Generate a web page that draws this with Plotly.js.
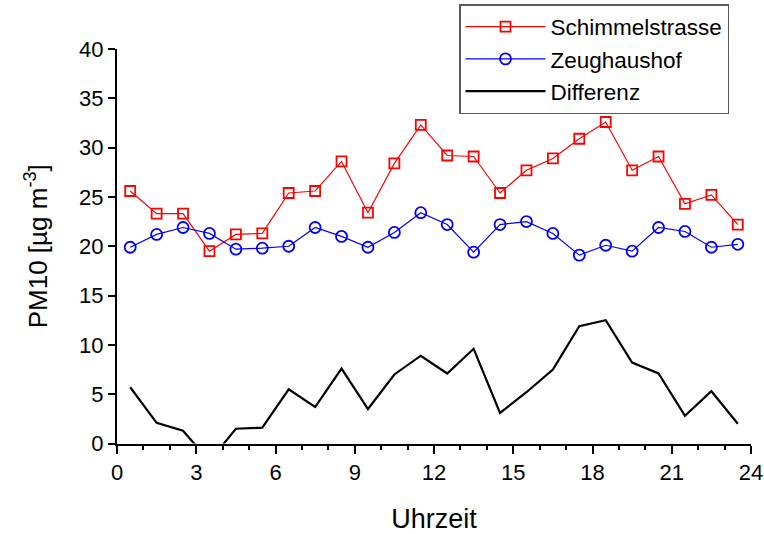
<!DOCTYPE html>
<html>
<head>
<meta charset="utf-8">
<script src="https://cdn.plot.ly/plotly-3.0.1.min.js"></script>
<style>
  html, body { margin: 0; padding: 0; background: #fff; }
  #chart { width: 764px; height: 534px; }
</style>
</head>
<body>
<div id="chart"></div>
<script>
// Hourly PM10 means (time of day, hour centres)
const hours = [0.5, 1.5, 2.5, 3.5, 4.5, 5.5, 6.5, 7.5, 8.5, 9.5, 10.5, 11.5,
               12.5, 13.5, 14.5, 15.5, 16.5, 17.5, 18.5, 19.5, 20.5, 21.5, 22.5, 23.5];

const schimmelstrasse = [25.6, 23.3, 23.3, 19.5, 21.2, 21.3, 25.4, 25.6, 28.6, 23.4, 28.4, 32.3,
                         29.2, 29.1, 25.4, 27.7, 28.9, 30.9, 32.6, 27.7, 29.1, 24.3, 25.2, 22.2];

const zeughaushof = [19.9, 21.2, 21.9, 21.3, 19.7, 19.8, 20.0, 21.9, 21.0, 19.9, 21.4, 23.4,
                     22.2, 19.4, 22.2, 22.5, 21.3, 19.1, 20.1, 19.5, 21.9, 21.5, 19.9, 20.2];

const differenz = [5.7, 2.1, 1.3, -1.8, 1.5, 1.6, 5.5, 3.7, 7.6, 3.5, 7.0, 8.9,
                   7.1, 9.6, 3.1, 5.2, 7.5, 11.9, 12.5, 8.2, 7.1, 2.8, 5.3, 2.0];

const seriesNames = ['Schimmelstrasse', 'Zeughaushof', 'Differenz'];

const xTickVals = [0, 3, 6, 9, 12, 15, 18, 21, 24];
const yTickVals = [0, 5, 10, 15, 20, 25, 30, 35, 40];

const W = 764, H = 534;
const font = 'Liberation Sans, Arial, sans-serif';

const traces = [
  {
    x: hours, y: schimmelstrasse, name: seriesNames[0],
    type: 'scatter', mode: 'lines+markers',
    line: { color: '#ff0000', width: 1.2 },
    marker: { symbol: 'square-open', size: 10, color: '#ff0000', line: { width: 1.8, color: '#ff0000' } }
  },
  {
    x: hours, y: zeughaushof, name: seriesNames[1],
    type: 'scatter', mode: 'lines+markers',
    line: { color: '#0000ff', width: 1.2 },
    marker: { symbol: 'circle-open', size: 11, color: '#0000ff', line: { width: 1.8, color: '#0000ff' } }
  },
  {
    x: hours, y: differenz, name: seriesNames[2],
    type: 'scatter', mode: 'lines',
    line: { color: '#000000', width: 2.2 }
  }
];

// Plot area placed through axis domains so the legend above it does not push margins
const layout = {
  width: W, height: H,
  margin: { l: 0, r: 0, t: 0, b: 0, pad: 0 },
  paper_bgcolor: '#ffffff', plot_bgcolor: '#ffffff',
  font: { family: font, color: '#000000', size: 22 },
  showlegend: true,
  legend: {
    x: 459 / W, y: 1 - 4 / H, xanchor: 'left', yanchor: 'top',
    bordercolor: '#5a5a5a', borderwidth: 1.5, bgcolor: '#ffffff',
    font: { family: font, size: 22.5, color: '#000000' },
    tracegroupgap: 0, itemwidth: 80
  },
  xaxis: {
    domain: [117 / W, 751 / W],
    range: [0, 24], tickvals: xTickVals, ticktext: xTickVals.map(String),
    showgrid: false, zeroline: false, automargin: false,
    showline: true, linecolor: '#000000', linewidth: 2,
    ticks: 'outside', ticklen: 8, tickwidth: 2, tickcolor: '#000000',
    minor: { dtick: 1, ticks: 'outside', ticklen: 4, tickwidth: 2, tickcolor: '#000000', showgrid: false },
    tickfont: { family: font, size: 22 },
    title: { text: 'Uhrzeit', font: { family: font, size: 27 }, standoff: 26 }
  },
  yaxis: {
    domain: [(H - 443.5) / H, (H - 49) / H],
    range: [0, 40], tickvals: yTickVals, ticktext: yTickVals.map(String),
    showgrid: false, zeroline: false, automargin: false,
    showline: true, linecolor: '#000000', linewidth: 2,
    ticks: 'outside', ticklen: 7, tickwidth: 2, tickcolor: '#000000',
    tickfont: { family: font, size: 22 },
    title: { text: 'PM10 [µg m<sup>-3</sup>]', font: { family: font, size: 26 }, standoff: 24 }
  }
};

Plotly.newPlot('chart', traces, layout, { displayModeBar: false, staticPlot: true });
</script>
</body>
</html>
